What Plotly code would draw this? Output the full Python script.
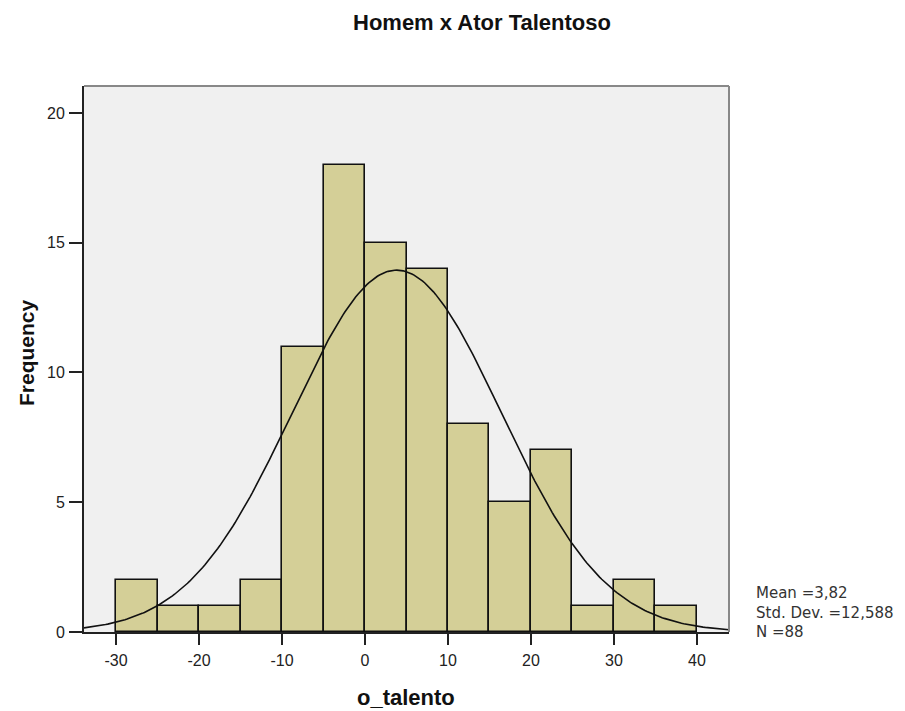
import numpy as np
import plotly.graph_objects as go

bin_starts = [-30, -25, -20, -15, -10, -5, 0, 5, 10, 15, 20, 25, 30, 35]
frequencies = [2, 1, 1, 2, 11, 18, 15, 14, 8, 5, 7, 1, 2, 1]
bin_width = 5
mean_val = 3.82
std_val = 12.588
n_val = 88
x_ticks = [-30, -20, -10, 0, 10, 20, 30, 40]
x_tick_labels = ["-30", "-20", "-10", "0", "10", "20", "30", "40"]
y_ticks = [0, 5, 10, 15, 20]
stats_lines = ["Mean =3,82", "Std. Dev. =12,588", "N =88"]

x_range = [-33.86, 43.86]
xs = np.linspace(x_range[0], x_range[1], 300)
ys = n_val * bin_width * np.exp(-0.5 * ((xs - mean_val) / std_val) ** 2) / (std_val * np.sqrt(2 * np.pi))

# plot area in page pixels: left 84, right 729, top 86, bottom 632 (body has 8px margin)
PL, PR, PT, PB = 84, 729, 86, 632
def px_x(px):
    return (px - PL) / (PR - PL)
def px_y(py):
    return (PB - py) / (PB - PT)

fig = go.Figure()
fig.add_trace(go.Bar(
    x=[b + bin_width / 2 for b in bin_starts], y=frequencies, width=bin_width,
    marker=dict(color="#d4cf97", line=dict(color="#111111", width=1.6)),
    showlegend=False, hoverinfo="skip"))
fig.add_trace(go.Scatter(x=xs, y=ys, mode="lines",
                         line=dict(color="#111111", width=1.6), showlegend=False))

annotations = [
    dict(text="<b>Homem x Ator Talentoso</b>", xref="paper", yref="paper",
         x=px_x(482), y=px_y(23), xanchor="center", yanchor="middle", showarrow=False,
         font=dict(family="Liberation Sans", size=22, color="#111111")),
    dict(text="<b>Frequency</b>", xref="paper", yref="paper", textangle=-90,
         x=px_x(26), y=px_y(353), xanchor="center", yanchor="middle", showarrow=False,
         font=dict(family="Liberation Sans", size=21, color="#111111")),
    dict(text="<b>o_talento</b>", xref="paper", yref="paper",
         x=px_x(406), y=px_y(697), xanchor="center", yanchor="middle", showarrow=False,
         font=dict(family="Liberation Sans", size=22, color="#111111")),
]
for i, line in enumerate(stats_lines):
    annotations.append(dict(
        text=line, xref="paper", yref="paper", x=px_x(754), y=px_y(593 + 19.5 * i),
        xanchor="left", yanchor="middle", align="left", showarrow=False,
        font=dict(family="DejaVu Sans", size=15, color="#333333")))

fig.update_layout(
    width=905, height=711,
    margin=dict(l=PL - 8, r=905 + 8 - PR, t=PT - 8, b=711 + 8 - PB),
    paper_bgcolor="white", plot_bgcolor="#f0f0f0",
    bargap=0,
    font=dict(family="Liberation Sans, Arial", color="#222222", size=16),
    xaxis=dict(range=x_range, tickvals=x_ticks, ticktext=x_tick_labels, ticks="outside",
               ticklen=11, tickwidth=1.5, tickcolor="#222222", showgrid=False, zeroline=False,
               showline=True, linecolor="#222222", linewidth=1.8, ticklabelstandoff=2),
    yaxis=dict(range=[0, 21.04], tickvals=y_ticks, ticks="outside", ticklen=13, tickwidth=1.5,
               tickcolor="#222222", showgrid=False, zeroline=False,
               showline=True, linecolor="#222222", linewidth=1.8, ticklabelstandoff=1),
    shapes=[
        dict(type="line", xref="paper", yref="paper", x0=0, x1=1, y0=1, y1=1,
             line=dict(color="#888888", width=2)),
        dict(type="line", xref="paper", yref="paper", x0=1, x1=1, y0=0, y1=1,
             line=dict(color="#888888", width=2)),
    ],
    annotations=annotations,
)

fig.write_html("out.html")
